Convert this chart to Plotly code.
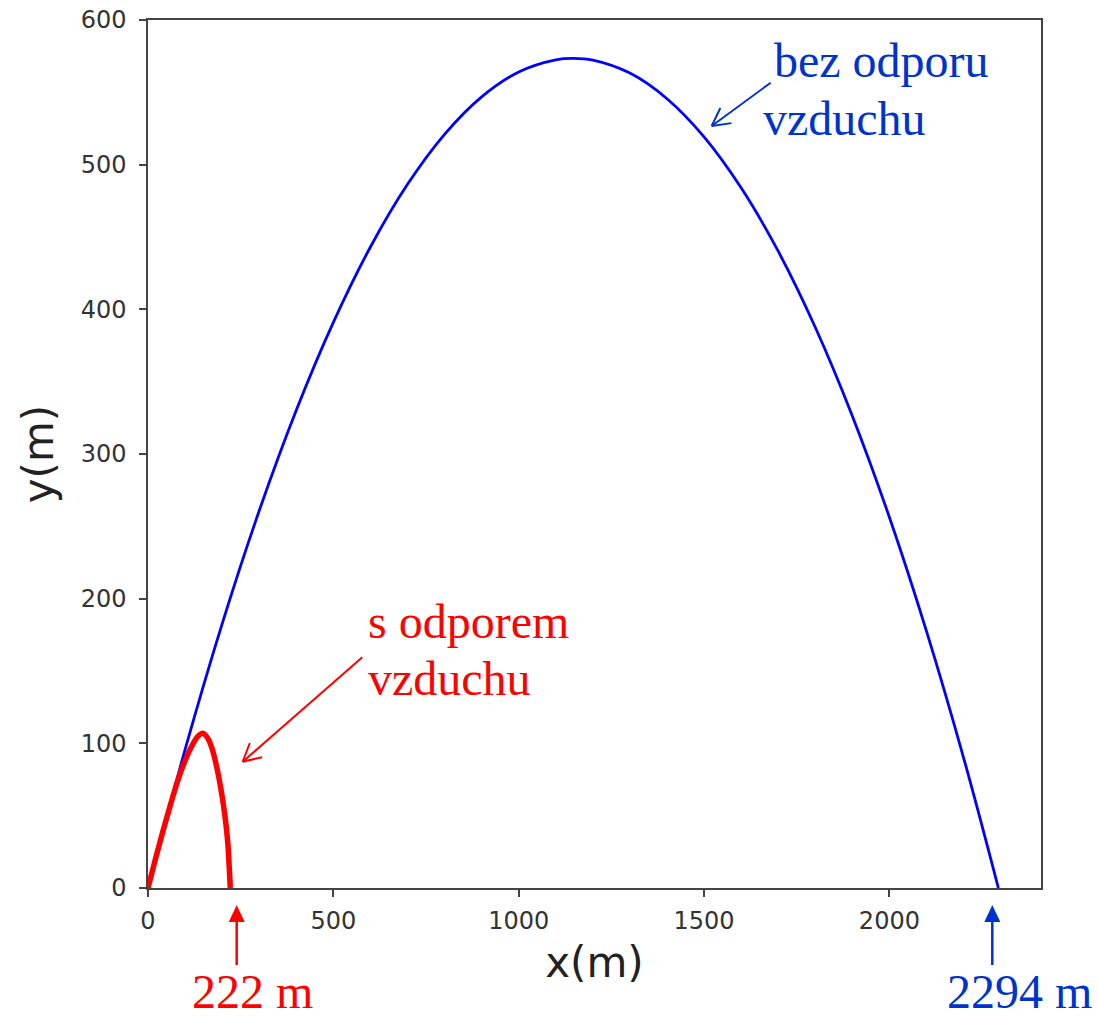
import math
import plotly.graph_objects as go

# Trajectory without air resistance (m)
x_vacuum = [0, 100, 200, 300, 400, 500, 600, 700, 800, 900, 1000, 1100, 1147,
            1200, 1300, 1400, 1500, 1600, 1700, 1800, 1900, 2000, 2100, 2200, 2294]
y_vacuum = [0, 95.6, 182.6, 260.8, 330.3, 391.0, 443.1, 486.4, 521.0, 546.9, 564.1,
            572.5, 573.5, 572.3, 563.3, 545.6, 519.2, 484.0, 440.2, 387.6, 326.3,
            256.3, 177.6, 90.2, 0]

# Trajectory with air resistance (m)
x_drag = [0, 20, 40, 60, 80, 100, 120, 135, 148, 160, 172, 185, 197, 208, 215, 219, 222]
y_drag = [0, 20, 39, 57, 74, 88, 99, 105, 107, 104, 97, 84, 68, 49, 32, 15, 0]

x_ticks = [0, 500, 1000, 1500, 2000]
y_ticks = [0, 100, 200, 300, 400, 500, 600]

W, H = 1099, 1021
L, R, T, B = 148, 58, 20, 133
PW, PH = W - L - R, H - T - B

BLUE_TXT = "#0033CC"
RED = "#FF0000"
SERIF = "Liberation Serif"


def px(xp):
    return (xp - L) / PW


def py(yp):
    return (T + PH - yp) / PH


fig = go.Figure()
fig.add_trace(go.Scatter(x=x_vacuum, y=y_vacuum, mode="lines",
                         line=dict(color="#0000FF", width=2.8, shape="spline"),
                         showlegend=False))
fig.add_trace(go.Scatter(x=x_drag, y=y_drag, mode="lines",
                         line=dict(color=RED, width=5.5, shape="spline"),
                         showlegend=False))

shapes = []


def open_arrow(tail, tip, color, arm=20, ang=28, width=2):
    (x0, y0), (x1, y1) = tail, tip
    shapes.append(dict(type="line", xref="paper", yref="paper",
                       x0=px(x0), y0=py(y0), x1=px(x1), y1=py(y1),
                       line=dict(color=color, width=width)))
    dx, dy = x0 - x1, y0 - y1
    n = math.hypot(dx, dy)
    dx, dy = dx / n, dy / n
    for s in (1, -1):
        a = math.radians(ang * s)
        ux = dx * math.cos(a) - dy * math.sin(a)
        uy = dx * math.sin(a) + dy * math.cos(a)
        shapes.append(dict(type="line", xref="paper", yref="paper",
                           x0=px(x1), y0=py(y1), x1=px(x1 + arm * ux), y1=py(y1 + arm * uy),
                           line=dict(color=color, width=width)))


def up_arrow(xc, tip_y, base_y, color, head_w=16, head_h=17, width=2.5):
    shapes.append(dict(type="line", xref="paper", yref="paper",
                       x0=px(xc), y0=py(base_y), x1=px(xc), y1=py(tip_y + head_h - 2),
                       line=dict(color=color, width=width)))
    path = (f"M {px(xc)} {py(tip_y)} L {px(xc - head_w / 2)} {py(tip_y + head_h)} "
            f"L {px(xc + head_w / 2)} {py(tip_y + head_h)} Z")
    shapes.append(dict(type="path", xref="paper", yref="paper", path=path,
                       fillcolor=color, line=dict(color=color, width=0)))


open_arrow((770.7, 82.7), (711.7, 126.0), BLUE_TXT)
open_arrow((362.3, 657.3), (242.7, 761.7), RED)
up_arrow(236.7, 905, 965, RED)
up_arrow(992.3, 905, 965, BLUE_TXT)

annotations = []


def label(text, xp, yp, color, xanchor="left", yanchor="middle"):
    annotations.append(dict(text=text, xref="paper", yref="paper", x=px(xp), y=py(yp),
                            xanchor=xanchor, yanchor=yanchor, showarrow=False,
                            font=dict(family=SERIF, size=48, color=color)))


label("bez odporu", 772, 60, BLUE_TXT)
label("vzduchu", 761, 118, BLUE_TXT)
label("s odporem", 366, 621, RED)
label("vzduchu", 366, 678, RED)
# range labels under the axis, boxes kept inside the page
label("222 m", 252, 1020, RED, "center", "bottom")
label("2294 m", 1019, 1020, BLUE_TXT, "center", "bottom")

axis_common = dict(showline=True, linecolor="#444", linewidth=1.5, mirror=True,
                   ticks="outside", ticklen=7, tickwidth=1.5, tickcolor="#444",
                   showgrid=False, zeroline=False, automargin=False,
                   tickfont=dict(family="DejaVu Sans", size=24, color="#333"))

fig.update_layout(
    width=W, height=H,
    margin=dict(l=L, r=R, t=T, b=B, autoexpand=False),
    paper_bgcolor="white", plot_bgcolor="white",
    xaxis=dict(range=[0, 2409], tickvals=x_ticks, ticklabelstandoff=3,
               title=dict(text="x(m)", font=dict(family="DejaVu Sans", size=42, color="#222"),
                          standoff=14),
               **axis_common),
    yaxis=dict(range=[0, 600], tickvals=y_ticks, ticklabelstandoff=8,
               title=dict(text="y(m)", font=dict(family="DejaVu Sans", size=42, color="#222"),
                          standoff=14),
               **axis_common),
    shapes=shapes,
    annotations=annotations,
)

fig.write_html("out.html")
